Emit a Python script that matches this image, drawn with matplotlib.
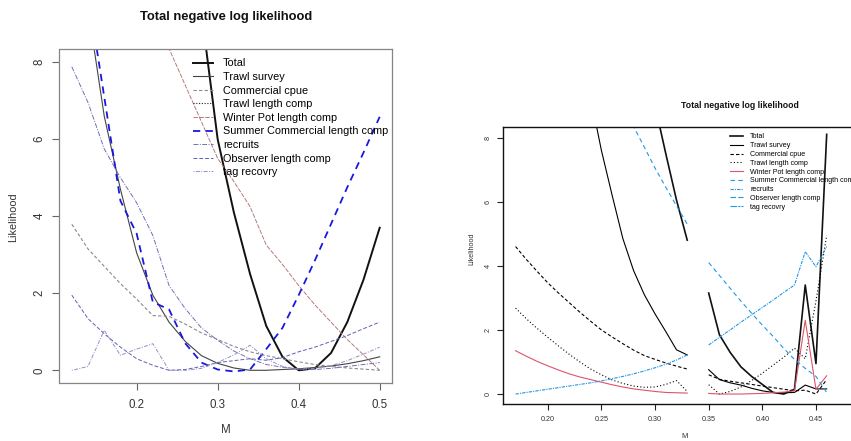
import numpy as np
import matplotlib
matplotlib.use("Agg")
import matplotlib.pyplot as plt
from matplotlib.lines import Line2D

plt.rcParams['font.family'] = ['Liberation Sans', 'DejaVu Sans']

W, H = 851, 441
nan = np.nan

series_names = ["Total", "Trawl survey", "Commercial cpue", "Trawl length comp",
                "Winter Pot length comp", "Summer Commercial length comp",
                "recruits", "Observer length comp", "tag recovry"]
title_text = "Total negative log likelihood"
xlabel_text = "M"
ylabel_text = "Likelihood"

# ---------------- left panel data ----------------
m_left = [0.12, 0.14, 0.16, 0.18, 0.20, 0.22, 0.24, 0.26, 0.28, 0.30,
          0.32, 0.34, 0.36, 0.38, 0.40, 0.42, 0.44, 0.46, 0.48, 0.50]
left_total = [51.5, 44.5, 38.0, 32.0, 26.5, 21.5, 17.0, 13.0, 9.3, 6.0,
              4.1, 2.5, 1.15, 0.35, 0.0, 0.05, 0.45, 1.25, 2.35, 3.7]
left_trawl_survey = [13.8, 9.4, 6.6, 4.7, 3.05, 1.95, 1.25, 0.75, 0.38, 0.18,
                     0.06, 0.0, 0.0, 0.02, 0.04, 0.07, 0.11, 0.17, 0.25, 0.35]
left_comm_cpue = [3.79, 3.15, 2.7, 2.25, 1.85, 1.42, 1.4, 1.2, 0.97, 0.8,
                  0.62, 0.48, 0.38, 0.3, 0.22, 0.15, 0.1, 0.06, 0.03, 0.0]
left_winter_pot = [15.5, 14.0, 12.6, 11.3, 10.2, 9.2, 8.35, 7.4, 6.45, 5.5,
                   4.9, 4.25, 3.25, 2.75, 2.2, 1.7, 1.25, 0.8, 0.4, 0.0]
left_summer_comm = [13.5, 9.8, 7.1, 4.4, 3.55, 1.77, 1.58, 0.7, 0.2, 0.02,
                    -0.03, 0.02, 0.55, 1.1, 1.95, 2.85, 3.8, 4.75, 5.65, 6.58]
left_recruits = [7.88, 6.95, 5.75, 5.0, 4.35, 3.5, 2.2, 1.6, 1.1, 0.78,
                 0.5, 0.3, 0.15, 0.08, 0.03, 0.02, 0.05, 0.1, 0.15, 0.2]
left_observer = [1.95, 1.34, 0.95, 0.6, 0.3, 0.13, 0.0, 0.02, 0.1, 0.2,
                 0.25, 0.3, 0.26, 0.33, 0.48, 0.6, 0.75, 0.9, 1.08, 1.25]
left_tag = [0.0, 0.1, 1.04, 0.39, 0.55, 0.69, 0.0, 0.0, 0.05, 0.2,
            0.4, 0.65, 0.3, 0.1, 0.03, 0.05, 0.12, 0.25, 0.42, 0.6]
left_xticks = [0.2, 0.3, 0.4, 0.5]
left_xticklabels = ["0.2", "0.3", "0.4", "0.5"]
yticks = [0, 2, 4, 6, 8]
yticklabels = ["0", "2", "4", "6", "8"]

# ---------------- right panel data ----------------
m_right = [0.17, 0.18, 0.19, 0.20, 0.21, 0.22, 0.23, 0.24, 0.25, 0.26,
           0.27, 0.28, 0.29, 0.30, 0.31, 0.32, 0.33, 0.34, 0.35, 0.36,
           0.37, 0.38, 0.39, 0.40, 0.41, 0.42, 0.43, 0.44, 0.45, 0.46]
right_total = [46.5, 41.5, 37.0, 33.0, 29.3, 26.0, 23.0, 20.3, 17.9, 15.7,
               13.7, 12.0, 10.5, 9.0, 7.5, 6.05, 4.8, nan, 3.15, 1.85,
               1.3, 0.85, 0.55, 0.3, 0.05, 0.0, 0.15, 3.4, 0.95, 8.1]
right_trawl_survey = [27.0, 23.8, 20.8, 18.0, 15.5, 13.2, 11.1, 9.25, 7.6, 6.2,
                      4.85, 3.85, 3.1, 2.5, 1.95, 1.38, 1.22, nan, 0.76, 0.45,
                      0.35, 0.28, 0.18, 0.1, 0.05, 0.04, 0.05, 0.28, 0.16, 0.16]
right_comm_cpue = [4.6, 4.2, 3.83, 3.47, 3.15, 2.85, 2.55, 2.27, 2.0, 1.78,
                   1.57, 1.37, 1.2, 1.08, 0.97, 0.87, 0.78, nan, 0.6, 0.46,
                   0.4, 0.35, 0.3, 0.25, 0.2, 0.15, 0.1, 0.12, 0.0, 0.45]
right_trawl_len = [2.68, 2.35, 2.05, 1.77, 1.5, 1.24, 1.0, 0.78, 0.6, 0.44,
                   0.33, 0.25, 0.21, 0.22, 0.3, 0.42, 0.08, nan, 0.29, 0.0,
                   0.08, 0.22, 0.42, 0.65, 0.9, 1.15, 1.43, 1.1, 2.9, 4.95]
right_winter_pot = [1.35, 1.18, 1.02, 0.88, 0.75, 0.63, 0.53, 0.45, 0.37, 0.29,
                    0.22, 0.16, 0.12, 0.08, 0.05, 0.04, 0.03, nan, 0.02, 0.0,
                    0.0, 0.0, 0.01, 0.02, 0.04, 0.06, 0.1, 2.3, 0.15, 0.57]
right_summer_comm = [16.1, 15.35, 14.6, 13.85, 13.1, 12.4, 11.7, 11.0, 10.3, 9.65,
                     9.0, 8.35, 7.7, 7.05, 6.45, 5.87, 5.3, nan, 4.1, 3.7,
                     3.3, 2.9, 2.52, 2.15, 1.8, 1.42, 1.08, 0.8, 0.55, 0.05]
right_recruits = [0.0, 0.05, 0.1, 0.15, 0.2, 0.25, 0.3, 0.35, 0.41, 0.48,
                  0.55, 0.63, 0.72, 0.82, 0.93, 1.06, 1.22, nan, 1.53, 1.77,
                  2.0, 2.24, 2.47, 2.7, 2.93, 3.17, 3.4, 4.44, 3.97, 4.6]
right_xticks = [0.20, 0.25, 0.30, 0.35, 0.40, 0.45]
right_xticklabels = ["0.20", "0.25", "0.30", "0.35", "0.40", "0.45"]

fig = plt.figure(figsize=(W / 100, H / 100), dpi=100)

def px_axes(l, t, r, b):
    return fig.add_axes([l / W, 1 - b / H, (r - l) / W, (b - t) / H])

# ================= LEFT PANEL =================
axL = px_axes(59.5, 49, 392, 383)
styleL = [
    dict(color='#111111', lw=1.4, ls='-'),
    dict(color='#444444', lw=0.8, ls='-'),
    dict(color='#8a8a8a', lw=0.8, ls=(0, (3, 2))),
    dict(color='#222222', lw=0.8, ls=(0, (1, 1.5))),
    dict(color='#b07272', lw=0.65, ls=(0, (5, 1.5))),
    dict(color='#1818e0', lw=1.3, ls=(0, (4, 3))),
    dict(color='#7070b4', lw=0.7, ls=(0, (5, 1.5, 1, 1.5))),
    dict(color='#6060b8', lw=0.7, ls=(0, (4, 2))),
    dict(color='#9090c4', lw=0.7, ls=(0, (1, 1.5, 4, 1.5))),
]
left_data = [left_total, left_trawl_survey, left_comm_cpue, None, left_winter_pot,
             left_summer_comm, left_recruits, left_observer, left_tag]
handlesL = []
for vals, st in zip(left_data, styleL):
    if vals is None:
        handlesL.append(Line2D([], [], **st))
    else:
        ln, = axL.plot(m_left, vals, **st)
        handlesL.append(ln)
axL.set_xlim(0.1048, 0.5152)
axL.set_ylim(-0.33, 8.34)
axL.set_xticks(left_xticks, left_xticklabels)
axL.set_yticks(yticks, yticklabels)
for s in axL.spines.values():
    s.set_color('#858585')
    s.set_linewidth(0.9)
axL.tick_params(axis='both', direction='out', length=5, width=0.8, color='#666666',
                labelsize=8.3, labelcolor='#333333')
axL.tick_params(axis='x', pad=6.5)
axL.tick_params(axis='y', pad=5, labelrotation=90)
for lab in axL.get_yticklabels():
    lab.set_va('center')
axL.legend(handlesL, series_names, loc='upper left',
           bbox_to_anchor=(193 / W, 1 - 58.5 / H), bbox_transform=fig.transFigure,
           frameon=False, fontsize=7.8, handlelength=1.85, handletextpad=0.9,
           labelspacing=0.33, borderpad=0, borderaxespad=0)
fig.text(226 / W, 1 - 17 / H, title_text, ha='center', va='center',
         fontsize=9.4, fontweight='bold', color='#111111')
fig.text(226 / W, 1 - 430 / H, xlabel_text, ha='center', va='center',
         fontsize=8.3, color='#333333')
fig.text(13 / W, 1 - 217 / H, ylabel_text, ha='center', va='center',
         fontsize=7.8, color='#333333', rotation=90)

# ================= RIGHT PANEL =================
axR = px_axes(502.7, 127.3, 868, 404.3)
BLUE = '#2297E6'
RED = '#DF536B'
styleR = [
    dict(color='#111111', lw=1.2, ls='-'),
    dict(color='#000000', lw=0.8, ls='-'),
    dict(color='#000000', lw=0.8, ls=(0, (3, 2))),
    dict(color='#000000', lw=0.8, ls=(0, (1, 2))),
    dict(color=RED, lw=0.8, ls='-'),
    dict(color=BLUE, lw=0.8, ls=(0, (4, 3))),
    dict(color=BLUE, lw=0.8, ls=(0, (3, 1, 1, 1))),
    dict(color=BLUE, lw=0.8, ls=(0, (5, 2))),
    dict(color=BLUE, lw=0.8, ls=(0, (6, 1, 2, 1))),
]
right_data = [right_total, right_trawl_survey, right_comm_cpue, right_trawl_len,
              right_winter_pot, right_summer_comm, right_recruits, None, None]
handlesR = []
for vals, st in zip(right_data, styleR):
    if vals is None:
        handlesR.append(Line2D([], [], **st))
    else:
        ln, = axR.plot(m_right, vals, **st)
        handlesR.append(ln)
axR.set_xlim(0.158, 0.4985)
axR.set_ylim(-0.32, 8.32)
axR.set_xticks(right_xticks, right_xticklabels)
axR.set_yticks(yticks, yticklabels)
for s in axR.spines.values():
    s.set_color('#111111')
    s.set_linewidth(1.0)
axR.tick_params(axis='both', direction='out', length=4.5, width=0.8, color='#222222',
                labelsize=5.2, labelcolor='#333333')
axR.tick_params(axis='x', pad=4.0)
axR.tick_params(axis='y', pad=3.2, labelrotation=90)
for lab in axR.get_yticklabels():
    lab.set_va('center')
axR.legend(handlesR, series_names, loc='upper left',
           bbox_to_anchor=(730 / W, 1 - 133.5 / H), bbox_transform=fig.transFigure,
           frameon=False, fontsize=5.1, handlelength=1.85, handletextpad=1.0,
           labelspacing=0.25, borderpad=0, borderaxespad=0)
fig.text(740 / W, 1 - 106 / H, title_text, ha='center', va='center',
         fontsize=6.3, fontweight='bold', color='#111111')
fig.text(685 / W, 1 - 436 / H, xlabel_text, ha='center', va='center',
         fontsize=5.4, color='#333333')
fig.text(471.7 / W, 1 - 249 / H, ylabel_text, ha='center', va='center',
         fontsize=5.2, color='#333333', rotation=90)

fig.savefig("out.png", dpi=100)
